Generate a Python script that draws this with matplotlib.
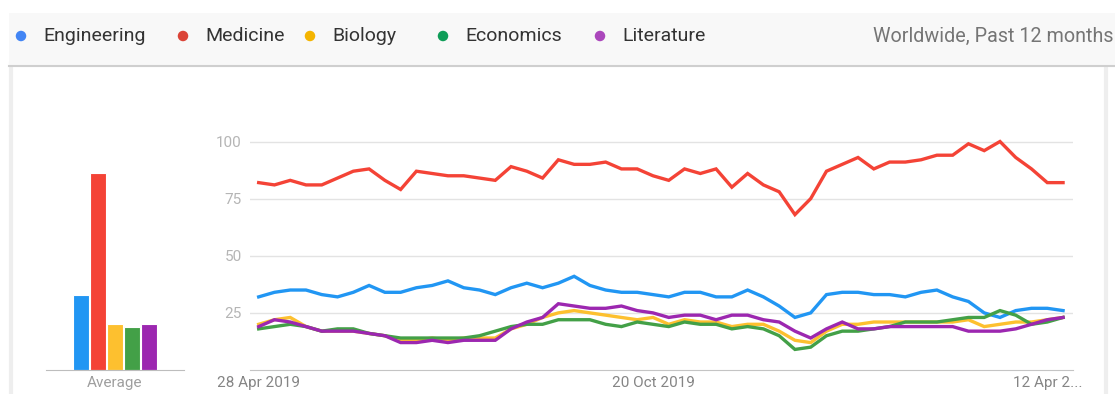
import matplotlib.pyplot as plt
import matplotlib.patches as patches
import pandas as pd

# weekly interest, past 12 months
weeks = pd.date_range("2019-04-28", periods=52, freq="7D")

engineering = [32, 34, 35, 35, 33, 32, 34, 37, 34, 34, 36, 37, 39, 36, 35, 33,
               36, 38, 36, 38, 41, 37, 35, 34, 34, 33, 32, 34, 34, 32, 32, 35,
               32, 28, 23, 25, 33, 34, 34, 33, 33, 32, 34, 35, 32, 30, 25, 23,
               26, 27, 27, 26]
medicine = [82, 81, 83, 81, 81, 84, 87, 88, 83, 79, 87, 86, 85, 85, 84, 83,
            89, 87, 84, 92, 90, 90, 91, 88, 88, 85, 83, 88, 86, 88, 80, 86,
            81, 78, 68, 75, 87, 90, 93, 88, 91, 91, 92, 94, 94, 99, 96, 100,
            93, 88, 82, 82]
biology = [20, 22, 23, 19, 17, 17, 17, 16, 15, 13, 13, 14, 13, 14, 14, 14,
           18, 20, 23, 25, 26, 25, 24, 23, 22, 23, 20, 22, 21, 21, 19, 20,
           20, 17, 13, 12, 17, 20, 20, 21, 21, 21, 21, 21, 21, 22, 19, 20,
           21, 21, 22, 23]
economics = [18, 19, 20, 19, 17, 18, 18, 16, 15, 14, 14, 14, 14, 14, 15, 17,
             19, 20, 20, 22, 22, 22, 20, 19, 21, 20, 19, 21, 20, 20, 18, 19,
             18, 15, 9, 10, 15, 17, 17, 18, 19, 21, 21, 21, 22, 23, 23, 26,
             24, 20, 21, 23]
literature = [19, 22, 21, 19, 17, 17, 17, 16, 15, 12, 12, 13, 12, 13, 13, 13,
              18, 21, 23, 29, 28, 27, 27, 28, 26, 25, 23, 24, 24, 22, 24, 24,
              22, 21, 17, 14, 18, 21, 18, 18, 19, 19, 19, 19, 19, 17, 17, 17,
              18, 20, 22, 23]

terms = ["Engineering", "Medicine", "Biology", "Economics", "Literature"]
averages = [33, 86, 20, 19, 20]
y_ticks = [25, 50, 75, 100]
x_tick_weeks = [0, 25, 50]
x_tick_labels = ["28 Apr 2019", "20 Oct 2019", "12 Apr 2..."]

line_colors = ["#2196f3", "#f44336", "#fdc02f", "#43a047", "#9c27b0"]
dot_colors = ["#4285f4", "#db4437", "#f4b400", "#0f9d58", "#ab47bc"]

plt.rcParams['font.family'] = ['Roboto', 'DejaVu Sans']

W, H = 1115, 394
fig = plt.figure(figsize=(W / 100, H / 100), dpi=100)


def box(x0, y0, x1, y1):
    # pixel box (top-left origin) -> figure fraction rect
    return [x0 / W, 1 - y1 / H, (x1 - x0) / W, (y1 - y0) / H]


# card and header strip, kept behind the axes
fig.add_artist(patches.Rectangle((11 / W, -0.1), 1095 / W, 1.1 - 64 / H, transform=fig.transFigure,
                                 facecolor="white", edgecolor="#eeeeee", linewidth=3, zorder=-5))
fig.add_artist(patches.Rectangle((9 / W, 1 - 65 / H), 1, 52 / H, transform=fig.transFigure,
                                 facecolor="#f8f8f8", edgecolor="none", zorder=-4))
fig.add_artist(plt.Line2D([9 / W, 1], [1 - 66 / H, 1 - 66 / H], transform=fig.transFigure,
                          color="#cfcfcf", linewidth=1.5, zorder=-3))

dot_x = [21, 183, 310, 443, 600]
for name, col, x in zip(terms, dot_colors, dot_x):
    fig.add_artist(patches.Ellipse((x / W, 1 - 36 / H), 10.5 / W, 10.5 / H, transform=fig.transFigure,
                                   facecolor=col, edgecolor="none"))
    fig.text((x + 22) / W, 1 - 36 / H, name, fontsize=14, color="#333333", va="center")
fig.text(873 / W, 1 - 36 / H, "Worldwide, Past 12 months", fontsize=14.2, color="#757575",
         va="center")

y_top = (370 - 120) / 2.285

# average bars
axb = fig.add_axes(box(46, 120, 184, 370))
axb.patch.set_visible(False)
axb.bar(range(len(terms)), averages, width=0.96, color=line_colors, edgecolor="white", linewidth=0.8)
axb.set_xlim(2 - 4.08, 2 + 4.08)
axb.set_ylim(0, y_top)
axb.set_xticks([2])
axb.set_xticklabels(["Average"], fontsize=11, color="#9e9e9e")
axb.set_yticks([])
axb.tick_params(axis="x", length=0, pad=4)
for s in ["top", "left", "right"]:
    axb.spines[s].set_visible(False)
axb.spines["bottom"].set_color("#bdbdbd")

# trend lines
ax = fig.add_axes(box(250, 120, 1073, 370))
ax.patch.set_visible(False)
idx = list(range(len(weeks)))
for series, col in zip([engineering, medicine, biology, economics, literature], line_colors):
    ax.plot(idx, series, color=col, linewidth=2.4, solid_joinstyle="miter", clip_on=False)
ax.set_xlim(-0.55, len(weeks) - 1 + 0.63)
ax.set_ylim(0, y_top)
ax.set_yticks(y_ticks)
ax.set_yticklabels([str(v) for v in y_ticks], fontsize=11, color="#b5b5b5")
ax.set_xticks(x_tick_weeks)
ax.set_xticklabels(x_tick_labels, fontsize=11, color="#858585")
ax.tick_params(axis="y", length=0, pad=6)
ax.tick_params(axis="x", length=0, pad=4)
ax.grid(axis="y", color="#e3e3e3", linewidth=1)
ax.set_axisbelow(True)
for s in ["top", "left", "right"]:
    ax.spines[s].set_visible(False)
ax.spines["bottom"].set_color("#c4c4c4")

fig.savefig("out.png", dpi=100)
